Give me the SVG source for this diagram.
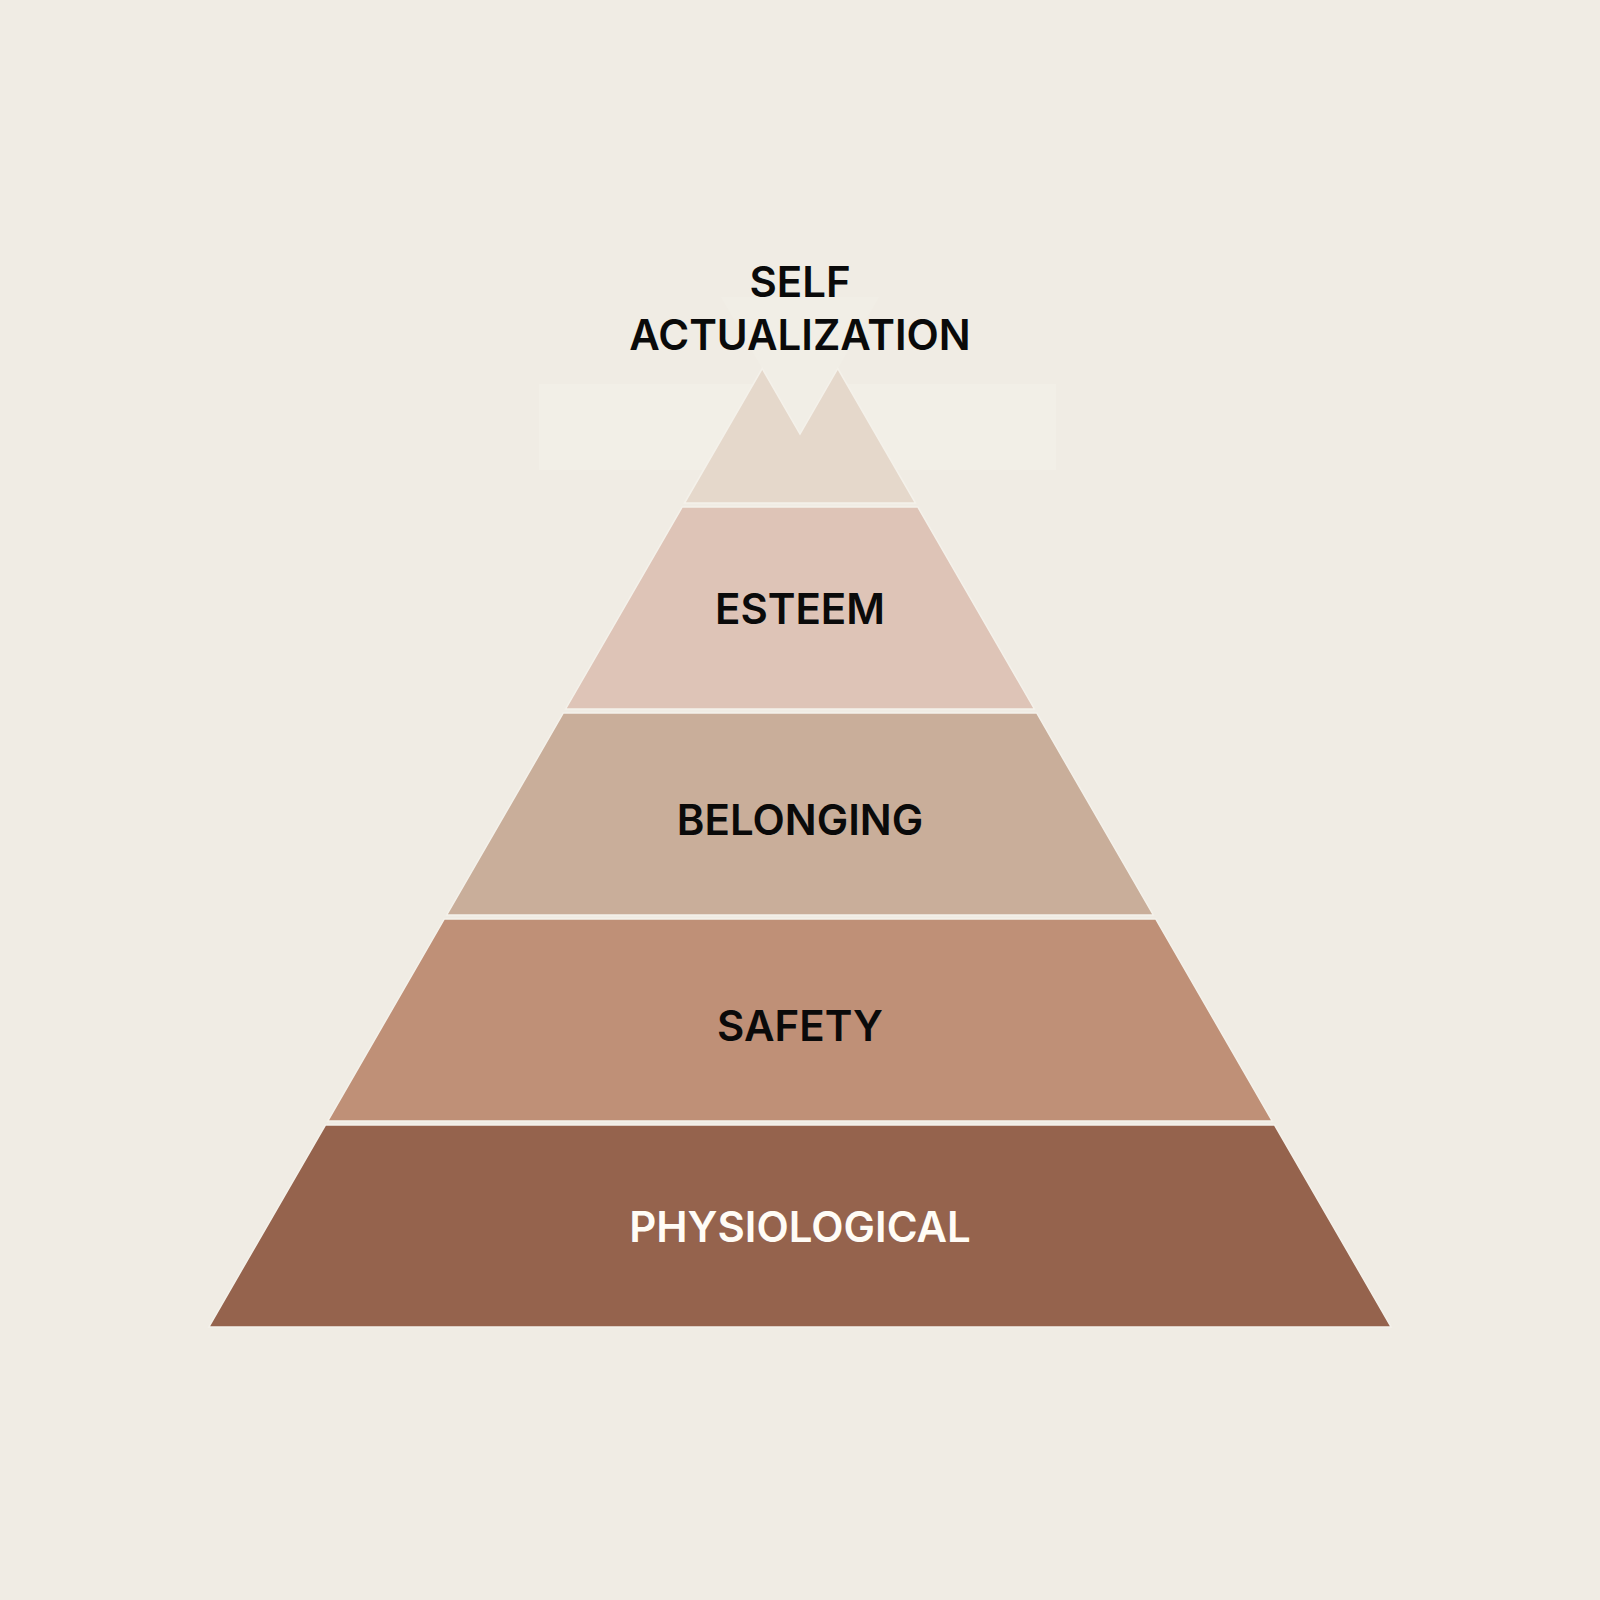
<svg xmlns="http://www.w3.org/2000/svg" width="1600" height="1600" viewBox="0 0 1600 1600">
  <style>
    .band { stroke: #F4F1EA; stroke-width: 1.5; stroke-linejoin: miter; }
    .lbl { font-family: Inter, "Noto Sans", "Liberation Sans", sans-serif; font-size: 42px; font-weight: 600; text-anchor: middle; fill: #0A0A0A; }
    .lbl-light { fill: #FFFCF6; }
  </style>
  <rect width="1600" height="1600" fill="#F0ECE4"/>
  <g id="backdrop">
    <rect x="539" y="384" width="517" height="86" fill="#F2EFE7"/>
    <polygon points="721,297 879,297 800,434" fill="#F1EEE6"/>
  </g>
  <g id="self-actualization">
    <polygon class="band" fill="#E5D8CB" points="684.5,503 762.2,368.5 800,434 837.8,368.5 915.5,503"/>
    <text class="lbl" x="800" y="297">SELF</text>
    <text class="lbl" x="800" y="350">ACTUALIZATION</text>
  </g>
  <g id="esteem">
    <polygon class="band" fill="#DEC4B7" points="682.2,507 917.8,507 1034.4,709 565.6,709"/>
    <text class="lbl" x="800" y="624">ESTEEM</text>
  </g>
  <g id="belonging">
    <polygon class="band" fill="#C9AE9A" points="563.3,713 1036.7,713 1153.3,915 446.7,915"/>
    <text class="lbl" x="800" y="835">BELONGING</text>
  </g>
  <g id="safety">
    <polygon class="band" fill="#BF9077" points="444.3,919 1155.7,919 1272.3,1121 327.7,1121"/>
    <text class="lbl" x="800" y="1041">SAFETY</text>
  </g>
  <g id="physiological">
    <polygon class="band" fill="#95634D" points="325.4,1125 1274.6,1125 1391.2,1327 208.8,1327"/>
    <text class="lbl lbl-light" x="800" y="1242">PHYSIOLOGICAL</text>
  </g>
  <g id="connectors"/>
</svg>
